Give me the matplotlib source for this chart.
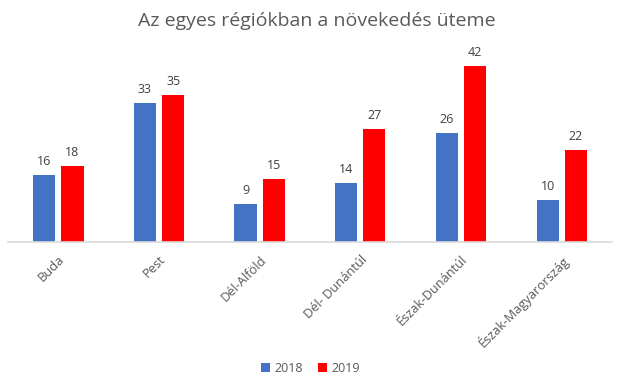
import matplotlib
matplotlib.use("Agg")
import matplotlib.pyplot as plt
import numpy as np

regions = ["Buda", "Pest", "Dél-Alföld", "Dél- Dunántúl", "Észak-Dunántúl", "Észak-Magyarország"]
years = ["2018", "2019"]
values_2018 = [16, 33, 9, 14, 26, 10]
values_2019 = [18, 35, 15, 27, 42, 22]

plt.rcParams["font.family"] = ["Open Sans", "DejaVu Sans"]
text_color = "#595959"

fig = plt.figure(figsize=(6.21, 3.88), dpi=100)
ax = fig.add_axes([8 / 621, 146 / 388, 604 / 621, 189 / 388])

x = np.arange(len(regions))
w = 0.22
b1 = ax.bar(x - 0.14, values_2018, w, color="#4472C4", label=years[0])
b2 = ax.bar(x + 0.14, values_2019, w, color="#FF0000", label=years[1])

for bars in (b1, b2):
    for rect in bars:
        h = rect.get_height()
        ax.annotate(f"{h:g}", (rect.get_x() + rect.get_width() / 2, h),
                    xytext=(0, 5), textcoords="offset points",
                    ha="center", va="bottom", fontsize=9, color="#404040")

ax.set_xlim(-0.5, len(regions) - 0.5)
ax.set_ylim(0, 45)
ax.set_yticks([])
for s in ["top", "right", "left"]:
    ax.spines[s].set_visible(False)
ax.spines["bottom"].set_color("#D9D9D9")
ax.spines["bottom"].set_linewidth(1.2)

ax.set_xticks(x)
ax.set_xticklabels(regions, rotation=45, ha="right", rotation_mode="anchor",
                   fontsize=9.3, color=text_color)
ax.tick_params(axis="x", length=0, pad=8)

fig.text(0.51, 0.945, "Az egyes régiókban a növekedés üteme", ha="center", va="center",
         fontsize=14, color=text_color)

fig.legend(handles=[b1, b2], loc="center", bbox_to_anchor=(0.5, 0.05), ncol=2,
           frameon=False, fontsize=9, handlelength=0.7, handleheight=0.7,
           columnspacing=1.2, handletextpad=0.4, labelcolor=text_color)

fig.savefig("out.png", dpi=100)
